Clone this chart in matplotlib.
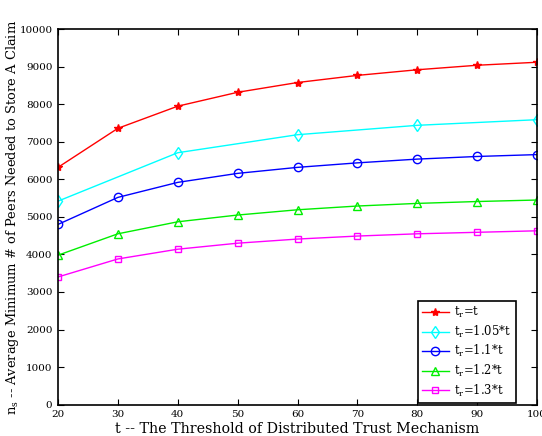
import numpy as np
import matplotlib
matplotlib.use("Agg")
import matplotlib.pyplot as plt

plt.rcParams['font.family'] = ['DejaVu Serif']
plt.rcParams['mathtext.fontset'] = 'dejavuserif'

# threshold values
t = [20, 30, 40, 50, 60, 70, 80, 90, 100]
t_cyan = [20, 40, 60, 80, 100]

# average minimum number of peers for each t_r
ns_t = [6320, 7360, 7950, 8320, 8580, 8770, 8920, 9040, 9120]
ns_105 = [5420, 6710, 7190, 7440, 7590]
ns_11 = [4800, 5520, 5920, 6160, 6320, 6440, 6540, 6610, 6660]
ns_12 = [3980, 4550, 4870, 5050, 5190, 5290, 5360, 5410, 5450]
ns_13 = [3400, 3880, 4140, 4300, 4410, 4490, 4550, 4590, 4630]

fig = plt.figure(figsize=(5.42, 4.36), dpi=100)
ax = fig.add_axes([0.107, 0.072, 0.884, 0.861])

ax.plot(t, ns_t, '-*', color='red', lw=1, ms=6, label=r'$\mathrm{t_r}$=t')
ax.plot(t_cyan, ns_105, '-d', color='cyan', lw=1, ms=6, mfc='none', label=r'$\mathrm{t_r}$=1.05*t')
ax.plot(t, ns_11, '-o', color='blue', lw=1, ms=6, mfc='none', label=r'$\mathrm{t_r}$=1.1*t')
ax.plot(t, ns_12, '-^', color='#00ee00', lw=1, ms=6, mfc='none', label=r'$\mathrm{t_r}$=1.2*t')
ax.plot(t, ns_13, '-s', color='magenta', lw=1, ms=5, mfc='none', label=r'$\mathrm{t_r}$=1.3*t')

ax.set_xlim(20, 100)
ax.set_ylim(0, 10000)
ax.set_xticks(np.arange(20, 101, 10))
ax.set_yticks(np.arange(0, 10001, 1000))
ax.tick_params(direction='in', top=True, right=True, labelsize=7.5, length=4, pad=4)
for s in ax.spines.values():
    s.set_linewidth(1.2)

ax.set_xlabel('t -- The Threshold of Distributed Trust Mechanism', fontsize=10.3, labelpad=2)
ax.set_ylabel(r'$\mathrm{n_s}$ -- Average Minimum # of Peers Needed to Store A Claim', fontsize=9.4)
ax.yaxis.set_label_coords(-0.078, 0.5)

leg = ax.legend(loc='lower right', bbox_to_anchor=(0.955, 0.005), fontsize=8.4,
                fancybox=False, framealpha=1, edgecolor='black', borderaxespad=0,
                handlelength=2.3, handletextpad=0.5, labelspacing=0.3, borderpad=0.35)
leg.get_frame().set_linewidth(1.2)

fig.savefig('out.png', dpi=100)
